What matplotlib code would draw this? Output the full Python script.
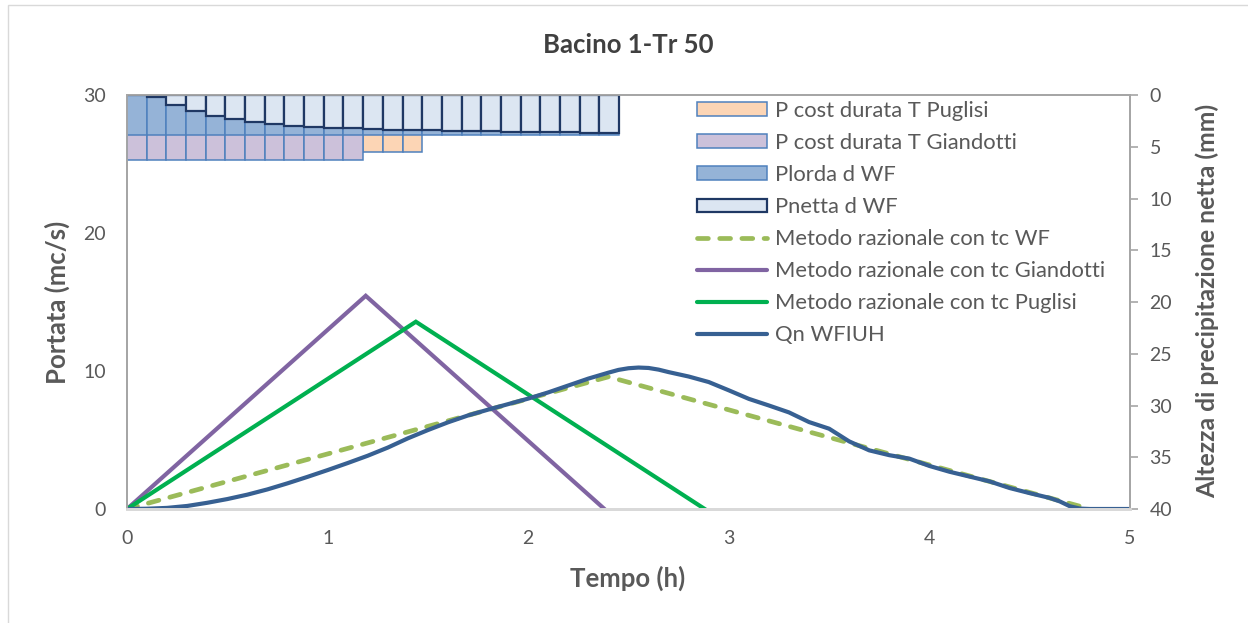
import matplotlib
matplotlib.use("Agg")
import matplotlib.pyplot as plt
from matplotlib.patches import Patch, Rectangle
from matplotlib.lines import Line2D

# ---- data -------------------------------------------------------------
dt = 0.0981  # rainfall time step (h)

# rainfall depths per time step (mm)
p_netta_wf = [0.0, 0.15, 0.97, 1.55, 2.03, 2.32, 2.58, 2.80, 2.96, 3.09,
              3.16, 3.22, 3.30, 3.35, 3.38, 3.41, 3.45, 3.48, 3.51, 3.54,
              3.56, 3.59, 3.62, 3.64, 3.67]
p_lorda_wf = [3.9] * 25
p_giandotti = [6.3] * 12
p_puglisi = [5.5] * 15

# rational method triangles: (time, discharge)
t_wf = [0.0, 2.40, 4.80]
q_wf = [0.0, 9.58, 0.0]
t_giandotti = [0.0, 1.19, 2.38]
q_giandotti = [0.0, 15.45, 0.0]
t_puglisi = [0.0, 1.44, 2.88]
q_puglisi = [0.0, 13.57, 0.0]

# WFIUH hydrograph
t_qn = [0.0, 0.1, 0.2, 0.3, 0.4, 0.5, 0.6, 0.7, 0.8, 0.9, 1.0, 1.1, 1.2,
        1.3, 1.4, 1.5, 1.6, 1.7, 1.8, 1.9, 2.0, 2.1, 2.2, 2.3, 2.4, 2.45,
        2.5, 2.55, 2.6, 2.65, 2.7, 2.8, 2.9, 3.0, 3.1, 3.2, 3.3, 3.4, 3.5,
        3.6, 3.7, 3.8, 3.9, 4.0, 4.1, 4.2, 4.3, 4.4, 4.5, 4.6, 4.65, 4.7,
        4.75, 4.8, 4.9, 5.0]
q_qn = [0.0, 0.02, 0.08, 0.22, 0.45, 0.72, 1.04, 1.42, 1.86, 2.33, 2.82,
        3.33, 3.86, 4.45, 5.12, 5.72, 6.28, 6.78, 7.2, 7.6, 8.0, 8.45,
        8.95, 9.45, 9.88, 10.08, 10.2, 10.25, 10.22, 10.1, 9.92, 9.6, 9.2,
        8.6, 7.98, 7.5, 7.0, 6.3, 5.82, 4.9, 4.25, 3.9, 3.65, 3.12, 2.7,
        2.35, 2.0, 1.52, 1.15, 0.8, 0.55, 0.2, 0.03, 0.0, 0.0, 0.0]

x_ticks = [0, 1, 2, 3, 4, 5]
y_ticks = [0, 10, 20, 30]
y2_ticks = [0, 5, 10, 15, 20, 25, 30, 35, 40]

labels = ["P cost durata T Puglisi", "P cost durata T Giandotti",
          "Plorda d WF", "Pnetta d WF", "Metodo razionale con tc WF",
          "Metodo razionale con tc Giandotti",
          "Metodo razionale con tc Puglisi", "Qn WFIUH"]

# ---- style ------------------------------------------------------------
plt.rcParams['font.family'] = ['Lato', 'DejaVu Sans']
txt = '#595959'
c_wf = '#9BBB59'
c_gia = '#8064A2'
c_pug = '#00B050'
c_qn = '#376092'
edge_light = '#4F81BD'
edge_dark = '#1F3864'
f_pug = '#FCD5B5'
f_gia = '#CCC1DA'
f_lorda = '#95B3D7'
f_netta = '#DCE6F2'
wf_dashes = (2.3, 2.4)

W, H = 1248, 623
fig = plt.figure(figsize=(W / 100, H / 100), dpi=100)

# chart border
fig.patches.append(Rectangle((8 / W, -0.05), 1.2, 1 - 5 / H + 0.05,
                             transform=fig.transFigure, fill=False,
                             edgecolor='#D9D9D9', linewidth=1.0))

ax = fig.add_axes([127 / W, 1 - 509 / H, (1130 - 127) / W, (509 - 95) / H])
ax2 = ax.twinx()

# discharge lines
lw = 3.0
lw_wf = 3.4
ax.plot(t_wf, q_wf, color=c_wf, lw=lw_wf, dashes=wf_dashes,
        dash_capstyle='round', dash_joinstyle='round')
ax.plot(t_giandotti, q_giandotti, color=c_gia, lw=lw, solid_joinstyle='miter')
ax.plot(t_puglisi, q_puglisi, color=c_pug, lw=lw, solid_joinstyle='miter')
ax.plot(t_qn, q_qn, color=c_qn, lw=lw, solid_capstyle='round',
        solid_joinstyle='round')

ax.set_xlim(0, 5)
ax.set_ylim(0, 30)
ax.set_xticks(x_ticks)
ax.set_yticks(y_ticks)
ax.tick_params(axis='both', length=0, labelsize=14, labelcolor=txt)
ax.tick_params(axis='y', pad=15)
ax.tick_params(axis='x', pad=15)

# rainfall bars (inverted secondary axis)
def bars(values, face, edge, lwid):
    xs = [i * dt for i in range(len(values))]
    ax2.bar(xs, values, width=dt, align='edge', bottom=0,
            facecolor=face, edgecolor=edge, linewidth=lwid)

bars(p_puglisi, f_pug, edge_light, 1.1)
bars(p_giandotti, f_gia, edge_light, 1.1)
bars(p_lorda_wf, f_lorda, edge_light, 1.1)
bars(p_netta_wf, f_netta, edge_dark, 1.6)

ax2.set_ylim(40, 0)
ax2.set_yticks(y2_ticks)
ax2.tick_params(axis='y', length=6, width=1.2, color='#A6A6A6',
                labelsize=14, labelcolor=txt, pad=8)

for a in (ax, ax2):
    for s in a.spines.values():
        s.set_color('#A6A6A6')
        s.set_linewidth(1.3)
    a.spines['bottom'].set_color('#D9D9D9')
    a.spines['bottom'].set_linewidth(2.0)

# labels
fig.text(628 / W, 1 - 45 / H, "Bacino 1-Tr 50", ha='center', va='center',
         fontsize=18.5, fontweight='bold', color='#404040')
fig.text(57 / W, 1 - 302 / H, "Portata (mc/s)", ha='center', va='center',
         rotation=90, fontsize=18.5, fontweight='bold', color=txt)
fig.text(1207 / W, 1 - 301 / H, "Altezza di precipitazione netta (mm)",
         ha='center', va='center', rotation=90, fontsize=17.8,
         fontweight='bold', color=txt)
fig.text(628 / W, 1 - 578 / H, "Tempo (h)", ha='center', va='center',
         fontsize=18.5, fontweight='bold', color=txt)

# legend
handles = [
    Patch(facecolor=f_pug, edgecolor=edge_light, linewidth=1.1),
    Patch(facecolor=f_gia, edgecolor=edge_light, linewidth=1.1),
    Patch(facecolor=f_lorda, edgecolor=edge_light, linewidth=1.1),
    Patch(facecolor=f_netta, edgecolor=edge_dark, linewidth=1.6),
    Line2D([], [], color=c_wf, lw=lw_wf, dashes=wf_dashes,
           dash_capstyle='round'),
    Line2D([], [], color=c_gia, lw=lw, solid_capstyle='round'),
    Line2D([], [], color=c_pug, lw=lw, solid_capstyle='round'),
    Line2D([], [], color=c_qn, lw=lw, solid_capstyle='round'),
]
leg = fig.legend(handles, labels, loc='upper left',
                 bbox_to_anchor=(697 / W, 1 - 101 / H),
                 frameon=False, fontsize=15.8, handlelength=3.2,
                 handleheight=0.6, handletextpad=0.35, labelspacing=0.55,
                 borderaxespad=0, borderpad=0)
for t in leg.get_texts():
    t.set_color(txt)

fig.savefig("out.png", dpi=100)
